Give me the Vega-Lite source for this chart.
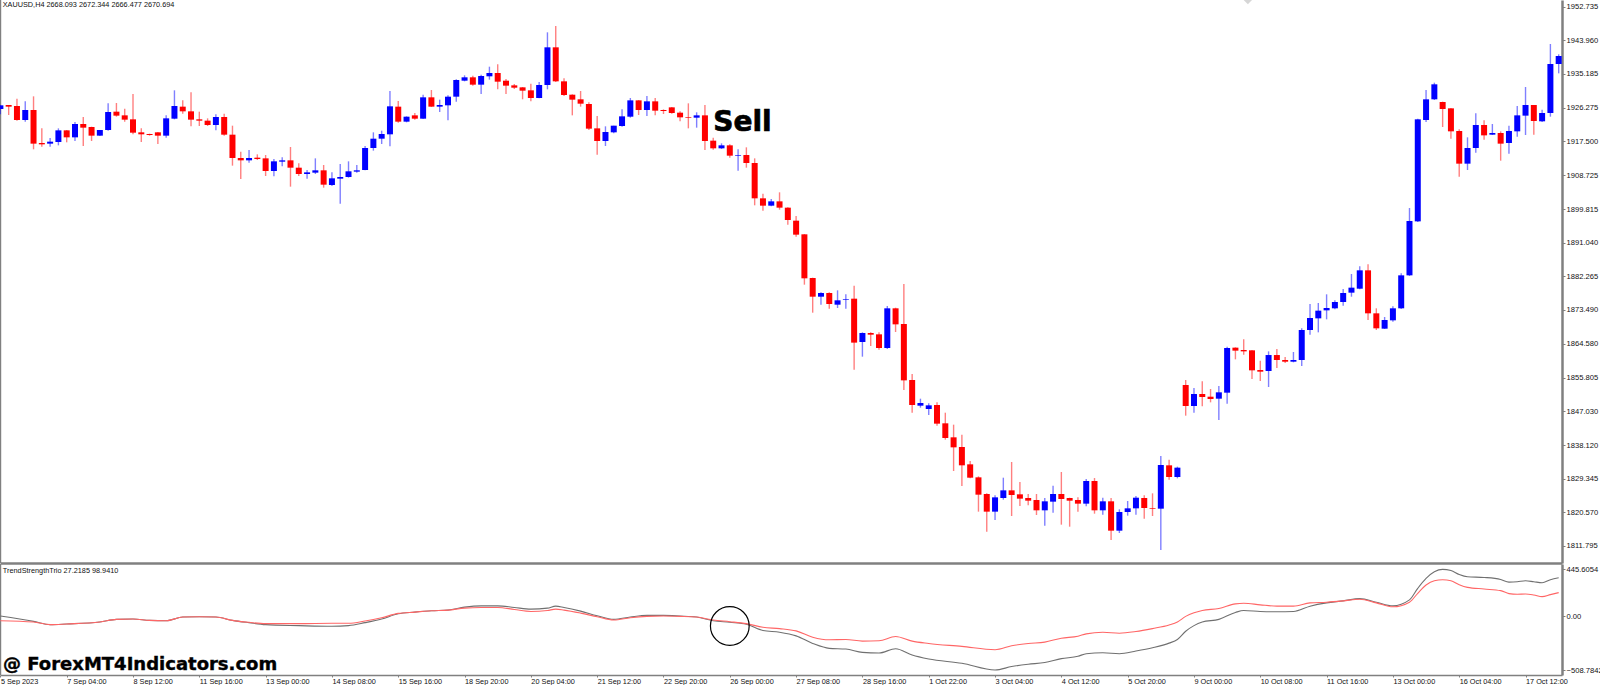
{"$schema":"https://vega.github.io/schema/vega-lite/v6.json","background":"white","padding":{"left":-2,"top":-1,"right":0,"bottom":0},"spacing":-1,"config":{"view":{"stroke":null},"font":"Liberation Sans","axis":{"labelFont":"Liberation Sans","labelFontSize":7.6,"labelColor":"#111","labelOverlap":false,"grid":false,"title":null,"domainColor":"#808080","tickColor":"#808080"}},
"datasets":{"candles":[
{"bar":0,"open":1925.99,"high":1926.95,"low":1924.59,"close":1926.95,"dir":"up"},
{"bar":1,"open":1927.03,"high":1927.03,"low":1924.42,"close":1926.6,"dir":"down"},
{"bar":2,"open":1926.77,"high":1928.69,"low":1922.94,"close":1923.11,"dir":"down"},
{"bar":3,"open":1923.11,"high":1927.99,"low":1922.68,"close":1925.73,"dir":"up"},
{"bar":4,"open":1925.73,"high":1929.3,"low":1915.45,"close":1916.93,"dir":"down"},
{"bar":5,"open":1917.1,"high":1920.93,"low":1916.14,"close":1916.75,"dir":"down"},
{"bar":6,"open":1916.93,"high":1918.41,"low":1916.14,"close":1917.45,"dir":"up"},
{"bar":7,"open":1917.36,"high":1920.93,"low":1916.49,"close":1920.41,"dir":"up"},
{"bar":8,"open":1920.41,"high":1920.5,"low":1917.28,"close":1918.58,"dir":"down"},
{"bar":9,"open":1918.58,"high":1922.59,"low":1917.62,"close":1922.07,"dir":"up"},
{"bar":10,"open":1922.07,"high":1923.9,"low":1916.32,"close":1921.11,"dir":"down"},
{"bar":11,"open":1921.28,"high":1921.37,"low":1917.62,"close":1919.02,"dir":"down"},
{"bar":12,"open":1919.02,"high":1920.5,"low":1918.93,"close":1920.5,"dir":"up"},
{"bar":13,"open":1920.5,"high":1927.47,"low":1920.32,"close":1925.2,"dir":"up"},
{"bar":14,"open":1925.29,"high":1927.56,"low":1923.98,"close":1924.25,"dir":"down"},
{"bar":15,"open":1924.33,"high":1926.08,"low":1922.68,"close":1923.2,"dir":"down"},
{"bar":16,"open":1923.29,"high":1929.91,"low":1919.37,"close":1919.8,"dir":"down"},
{"bar":17,"open":1919.89,"high":1920.93,"low":1917.36,"close":1919.37,"dir":"down"},
{"bar":18,"open":1919.45,"high":1919.54,"low":1919.02,"close":1919.19,"dir":"down"},
{"bar":19,"open":1919.89,"high":1919.98,"low":1916.84,"close":1919.02,"dir":"down"},
{"bar":20,"open":1919.02,"high":1924.33,"low":1918.5,"close":1923.55,"dir":"up"},
{"bar":21,"open":1923.46,"high":1930.87,"low":1923.29,"close":1926.77,"dir":"up"},
{"bar":22,"open":1926.6,"high":1928.25,"low":1924.77,"close":1925.38,"dir":"down"},
{"bar":23,"open":1925.38,"high":1930.35,"low":1921.46,"close":1923.2,"dir":"down"},
{"bar":24,"open":1923.29,"high":1925.29,"low":1921.54,"close":1922.94,"dir":"down"},
{"bar":25,"open":1922.94,"high":1923.55,"low":1921.54,"close":1921.81,"dir":"down"},
{"bar":26,"open":1921.81,"high":1924.59,"low":1920.41,"close":1923.9,"dir":"up"},
{"bar":27,"open":1923.9,"high":1924.77,"low":1919.02,"close":1919.28,"dir":"down"},
{"bar":28,"open":1919.28,"high":1921.63,"low":1911.18,"close":1913.18,"dir":"down"},
{"bar":29,"open":1913.18,"high":1914.83,"low":1907.69,"close":1912.57,"dir":"down"},
{"bar":30,"open":1912.57,"high":1915.27,"low":1911.96,"close":1913.18,"dir":"up"},
{"bar":31,"open":1913.27,"high":1914.14,"low":1912.66,"close":1912.92,"dir":"down"},
{"bar":32,"open":1913.09,"high":1913.96,"low":1908.48,"close":1909.78,"dir":"down"},
{"bar":33,"open":1909.78,"high":1912.92,"low":1908.39,"close":1912.31,"dir":"up"},
{"bar":34,"open":1912.22,"high":1913.35,"low":1911.0,"close":1912.57,"dir":"up"},
{"bar":35,"open":1912.57,"high":1916.06,"low":1905.69,"close":1910.65,"dir":"down"},
{"bar":36,"open":1910.65,"high":1911.79,"low":1908.48,"close":1909.0,"dir":"down"},
{"bar":37,"open":1909.0,"high":1910.04,"low":1907.78,"close":1909.43,"dir":"up"},
{"bar":38,"open":1909.35,"high":1913.09,"low":1909.0,"close":1909.96,"dir":"up"},
{"bar":39,"open":1909.96,"high":1911.35,"low":1905.43,"close":1906.21,"dir":"down"},
{"bar":40,"open":1906.12,"high":1909.43,"low":1905.86,"close":1907.87,"dir":"up"},
{"bar":41,"open":1907.78,"high":1911.61,"low":1901.24,"close":1908.21,"dir":"up"},
{"bar":42,"open":1908.21,"high":1912.31,"low":1908.04,"close":1909.7,"dir":"up"},
{"bar":43,"open":1909.61,"high":1911.35,"low":1909.35,"close":1909.96,"dir":"up"},
{"bar":44,"open":1910.04,"high":1916.32,"low":1909.96,"close":1915.79,"dir":"up"},
{"bar":45,"open":1915.79,"high":1919.89,"low":1915.1,"close":1918.23,"dir":"up"},
{"bar":46,"open":1918.23,"high":1920.32,"low":1916.84,"close":1919.45,"dir":"up"},
{"bar":47,"open":1919.37,"high":1930.69,"low":1916.23,"close":1926.69,"dir":"up"},
{"bar":48,"open":1926.6,"high":1928.08,"low":1922.42,"close":1922.68,"dir":"down"},
{"bar":49,"open":1922.68,"high":1924.07,"low":1922.5,"close":1923.98,"dir":"up"},
{"bar":50,"open":1924.33,"high":1924.94,"low":1923.2,"close":1923.46,"dir":"down"},
{"bar":51,"open":1923.46,"high":1929.73,"low":1923.37,"close":1929.04,"dir":"up"},
{"bar":52,"open":1929.04,"high":1930.95,"low":1926.51,"close":1926.6,"dir":"down"},
{"bar":53,"open":1926.6,"high":1928.43,"low":1925.2,"close":1927.03,"dir":"up"},
{"bar":54,"open":1926.95,"high":1929.56,"low":1923.03,"close":1929.21,"dir":"up"},
{"bar":55,"open":1929.21,"high":1933.74,"low":1927.91,"close":1933.57,"dir":"up"},
{"bar":56,"open":1933.39,"high":1934.79,"low":1933.22,"close":1934.27,"dir":"up"},
{"bar":57,"open":1934.27,"high":1934.7,"low":1932.09,"close":1932.35,"dir":"down"},
{"bar":58,"open":1932.35,"high":1934.96,"low":1929.91,"close":1934.61,"dir":"up"},
{"bar":59,"open":1934.53,"high":1937.05,"low":1933.66,"close":1935.4,"dir":"up"},
{"bar":60,"open":1935.4,"high":1937.66,"low":1931.13,"close":1933.13,"dir":"down"},
{"bar":61,"open":1933.39,"high":1933.83,"low":1929.91,"close":1932.09,"dir":"down"},
{"bar":62,"open":1932.17,"high":1932.52,"low":1931.22,"close":1931.56,"dir":"down"},
{"bar":63,"open":1931.65,"high":1931.74,"low":1928.52,"close":1930.78,"dir":"down"},
{"bar":64,"open":1930.87,"high":1932.61,"low":1927.99,"close":1928.86,"dir":"down"},
{"bar":65,"open":1928.86,"high":1933.05,"low":1928.78,"close":1932.26,"dir":"up"},
{"bar":66,"open":1932.26,"high":1946.03,"low":1931.13,"close":1942.11,"dir":"up"},
{"bar":67,"open":1942.11,"high":1947.68,"low":1933.05,"close":1933.22,"dir":"down"},
{"bar":68,"open":1933.22,"high":1934.0,"low":1929.39,"close":1929.65,"dir":"down"},
{"bar":69,"open":1929.73,"high":1929.82,"low":1924.33,"close":1928.43,"dir":"down"},
{"bar":70,"open":1928.52,"high":1930.69,"low":1926.6,"close":1927.38,"dir":"down"},
{"bar":71,"open":1927.3,"high":1927.73,"low":1920.5,"close":1920.85,"dir":"down"},
{"bar":72,"open":1920.93,"high":1924.16,"low":1914.05,"close":1917.62,"dir":"down"},
{"bar":73,"open":1917.62,"high":1921.46,"low":1916.32,"close":1919.98,"dir":"up"},
{"bar":74,"open":1919.89,"high":1921.63,"low":1919.63,"close":1921.63,"dir":"up"},
{"bar":75,"open":1921.54,"high":1925.9,"low":1921.37,"close":1924.07,"dir":"up"},
{"bar":76,"open":1923.98,"high":1928.86,"low":1923.72,"close":1928.25,"dir":"up"},
{"bar":77,"open":1928.25,"high":1928.34,"low":1924.42,"close":1925.73,"dir":"down"},
{"bar":78,"open":1925.73,"high":1929.39,"low":1924.16,"close":1927.99,"dir":"up"},
{"bar":79,"open":1927.99,"high":1928.86,"low":1924.33,"close":1925.55,"dir":"down"},
{"bar":80,"open":1925.73,"high":1925.9,"low":1924.68,"close":1925.47,"dir":"down"},
{"bar":81,"open":1926.42,"high":1926.51,"low":1924.77,"close":1924.94,"dir":"down"},
{"bar":82,"open":1925.03,"high":1925.38,"low":1922.77,"close":1923.81,"dir":"down"},
{"bar":83,"open":1923.9,"high":1927.47,"low":1920.93,"close":1923.72,"dir":"down"},
{"bar":84,"open":1923.72,"high":1925.12,"low":1921.11,"close":1924.33,"dir":"up"},
{"bar":85,"open":1924.33,"high":1927.03,"low":1915.27,"close":1917.62,"dir":"down"},
{"bar":86,"open":1917.71,"high":1918.5,"low":1915.36,"close":1915.71,"dir":"down"},
{"bar":87,"open":1915.71,"high":1917.01,"low":1915.53,"close":1916.49,"dir":"up"},
{"bar":88,"open":1916.49,"high":1916.75,"low":1913.27,"close":1913.79,"dir":"down"},
{"bar":89,"open":1913.79,"high":1915.45,"low":1909.87,"close":1913.96,"dir":"up"},
{"bar":90,"open":1913.96,"high":1915.97,"low":1910.65,"close":1911.87,"dir":"down"},
{"bar":91,"open":1911.87,"high":1913.09,"low":1900.81,"close":1902.64,"dir":"down"},
{"bar":92,"open":1902.64,"high":1903.86,"low":1899.41,"close":1900.72,"dir":"down"},
{"bar":93,"open":1900.72,"high":1902.46,"low":1900.55,"close":1901.85,"dir":"up"},
{"bar":94,"open":1901.85,"high":1904.21,"low":1899.67,"close":1900.2,"dir":"down"},
{"bar":95,"open":1900.2,"high":1900.29,"low":1895.75,"close":1896.97,"dir":"down"},
{"bar":96,"open":1896.8,"high":1898.02,"low":1892.62,"close":1893.14,"dir":"down"},
{"bar":97,"open":1893.23,"high":1893.32,"low":1880.07,"close":1881.73,"dir":"down"},
{"bar":98,"open":1881.81,"high":1881.9,"low":1872.75,"close":1876.93,"dir":"down"},
{"bar":99,"open":1876.93,"high":1878.07,"low":1874.84,"close":1877.89,"dir":"up"},
{"bar":100,"open":1877.89,"high":1878.07,"low":1873.8,"close":1875.02,"dir":"down"},
{"bar":101,"open":1874.84,"high":1878.59,"low":1873.97,"close":1875.98,"dir":"up"},
{"bar":102,"open":1876.15,"high":1877.55,"low":1873.8,"close":1876.32,"dir":"up"},
{"bar":103,"open":1876.41,"high":1879.81,"low":1857.85,"close":1864.92,"dir":"down"},
{"bar":104,"open":1865.09,"high":1867.61,"low":1861.25,"close":1867.44,"dir":"up"},
{"bar":105,"open":1867.44,"high":1867.61,"low":1864.04,"close":1867.0,"dir":"down"},
{"bar":106,"open":1867.09,"high":1867.61,"low":1863.08,"close":1863.52,"dir":"down"},
{"bar":107,"open":1863.52,"high":1874.49,"low":1863.26,"close":1873.89,"dir":"up"},
{"bar":108,"open":1873.89,"high":1874.06,"low":1867.7,"close":1869.7,"dir":"down"},
{"bar":109,"open":1869.79,"high":1880.25,"low":1852.54,"close":1855.06,"dir":"down"},
{"bar":110,"open":1855.15,"high":1856.72,"low":1846.61,"close":1848.62,"dir":"down"},
{"bar":111,"open":1848.44,"high":1850.27,"low":1847.92,"close":1849.14,"dir":"up"},
{"bar":112,"open":1847.57,"high":1849.05,"low":1846.0,"close":1848.53,"dir":"up"},
{"bar":113,"open":1848.62,"high":1849.31,"low":1843.22,"close":1843.74,"dir":"down"},
{"bar":114,"open":1843.83,"high":1846.61,"low":1839.56,"close":1840.0,"dir":"down"},
{"bar":115,"open":1840.17,"high":1843.48,"low":1831.37,"close":1837.55,"dir":"down"},
{"bar":116,"open":1837.64,"high":1840.86,"low":1827.45,"close":1832.85,"dir":"down"},
{"bar":117,"open":1833.11,"high":1833.98,"low":1829.45,"close":1829.62,"dir":"down"},
{"bar":118,"open":1829.71,"high":1829.97,"low":1820.74,"close":1825.18,"dir":"down"},
{"bar":119,"open":1825.36,"high":1825.53,"low":1815.51,"close":1820.74,"dir":"down"},
{"bar":120,"open":1820.74,"high":1825.01,"low":1818.56,"close":1824.48,"dir":"up"},
{"bar":121,"open":1824.31,"high":1829.62,"low":1823.87,"close":1826.31,"dir":"up"},
{"bar":122,"open":1826.31,"high":1833.72,"low":1819.6,"close":1825.09,"dir":"down"},
{"bar":123,"open":1825.27,"high":1828.49,"low":1822.21,"close":1824.14,"dir":"down"},
{"bar":124,"open":1824.31,"high":1825.36,"low":1822.39,"close":1823.61,"dir":"down"},
{"bar":125,"open":1823.79,"high":1825.36,"low":1819.86,"close":1821.09,"dir":"down"},
{"bar":126,"open":1821.09,"high":1824.31,"low":1817.08,"close":1823.44,"dir":"up"},
{"bar":127,"open":1823.35,"high":1827.53,"low":1820.48,"close":1825.36,"dir":"up"},
{"bar":128,"open":1825.36,"high":1831.1,"low":1817.34,"close":1824.05,"dir":"down"},
{"bar":129,"open":1824.31,"high":1824.39,"low":1816.81,"close":1823.61,"dir":"down"},
{"bar":130,"open":1823.79,"high":1824.48,"low":1820.74,"close":1822.83,"dir":"down"},
{"bar":131,"open":1822.83,"high":1829.27,"low":1822.13,"close":1828.75,"dir":"up"},
{"bar":132,"open":1828.75,"high":1829.53,"low":1820.21,"close":1821.09,"dir":"down"},
{"bar":133,"open":1821.09,"high":1824.39,"low":1819.95,"close":1823.44,"dir":"up"},
{"bar":134,"open":1823.44,"high":1824.31,"low":1813.33,"close":1815.77,"dir":"down"},
{"bar":135,"open":1815.77,"high":1821.35,"low":1815.16,"close":1820.65,"dir":"up"},
{"bar":136,"open":1820.65,"high":1823.53,"low":1819.69,"close":1821.61,"dir":"up"},
{"bar":137,"open":1821.61,"high":1824.83,"low":1819.95,"close":1824.39,"dir":"up"},
{"bar":138,"open":1824.31,"high":1825.01,"low":1818.9,"close":1821.7,"dir":"down"},
{"bar":139,"open":1821.7,"high":1825.53,"low":1819.6,"close":1821.52,"dir":"down"},
{"bar":140,"open":1821.52,"high":1835.29,"low":1810.72,"close":1832.93,"dir":"up"},
{"bar":141,"open":1832.85,"high":1834.33,"low":1829.1,"close":1829.8,"dir":"down"},
{"bar":142,"open":1829.8,"high":1832.5,"low":1829.45,"close":1832.24,"dir":"up"},
{"bar":143,"open":1853.84,"high":1855.15,"low":1845.83,"close":1848.35,"dir":"down"},
{"bar":144,"open":1848.35,"high":1853.06,"low":1846.61,"close":1851.49,"dir":"up"},
{"bar":145,"open":1851.49,"high":1854.8,"low":1848.27,"close":1850.71,"dir":"down"},
{"bar":146,"open":1850.79,"high":1852.8,"low":1849.31,"close":1850.18,"dir":"down"},
{"bar":147,"open":1850.27,"high":1853.58,"low":1844.7,"close":1851.93,"dir":"up"},
{"bar":148,"open":1851.84,"high":1863.87,"low":1848.97,"close":1863.52,"dir":"up"},
{"bar":149,"open":1863.61,"high":1863.69,"low":1860.55,"close":1862.82,"dir":"down"},
{"bar":150,"open":1862.99,"high":1865.78,"low":1861.77,"close":1862.64,"dir":"down"},
{"bar":151,"open":1862.91,"high":1862.99,"low":1855.41,"close":1857.68,"dir":"down"},
{"bar":152,"open":1857.76,"high":1860.2,"low":1854.89,"close":1857.33,"dir":"down"},
{"bar":153,"open":1857.5,"high":1862.64,"low":1853.32,"close":1861.68,"dir":"up"},
{"bar":154,"open":1861.68,"high":1863.26,"low":1858.29,"close":1860.38,"dir":"down"},
{"bar":155,"open":1860.38,"high":1861.16,"low":1859.59,"close":1859.94,"dir":"down"},
{"bar":156,"open":1859.94,"high":1862.47,"low":1859.77,"close":1860.38,"dir":"up"},
{"bar":157,"open":1860.38,"high":1868.66,"low":1858.81,"close":1868.22,"dir":"up"},
{"bar":158,"open":1868.22,"high":1875.02,"low":1867.0,"close":1871.36,"dir":"up"},
{"bar":159,"open":1871.27,"high":1875.28,"low":1867.61,"close":1873.28,"dir":"up"},
{"bar":160,"open":1873.36,"high":1877.55,"low":1871.01,"close":1873.97,"dir":"up"},
{"bar":161,"open":1873.89,"high":1875.98,"low":1873.63,"close":1875.54,"dir":"up"},
{"bar":162,"open":1875.54,"high":1878.94,"low":1874.58,"close":1877.89,"dir":"up"},
{"bar":163,"open":1877.98,"high":1882.86,"low":1876.93,"close":1879.29,"dir":"up"},
{"bar":164,"open":1879.02,"high":1884.86,"low":1878.85,"close":1883.82,"dir":"up"},
{"bar":165,"open":1883.82,"high":1885.39,"low":1870.84,"close":1872.58,"dir":"down"},
{"bar":166,"open":1872.58,"high":1873.89,"low":1868.22,"close":1868.66,"dir":"down"},
{"bar":167,"open":1868.57,"high":1871.62,"low":1868.48,"close":1870.84,"dir":"up"},
{"bar":168,"open":1870.75,"high":1874.41,"low":1870.4,"close":1873.89,"dir":"up"},
{"bar":169,"open":1873.89,"high":1883.03,"low":1873.71,"close":1882.51,"dir":"up"},
{"bar":170,"open":1882.51,"high":1900.11,"low":1882.34,"close":1896.71,"dir":"up"},
{"bar":171,"open":1896.62,"high":1923.46,"low":1896.45,"close":1923.29,"dir":"up"},
{"bar":172,"open":1923.11,"high":1930.95,"low":1922.59,"close":1928.52,"dir":"up"},
{"bar":173,"open":1928.52,"high":1932.87,"low":1928.34,"close":1932.44,"dir":"up"},
{"bar":174,"open":1927.82,"high":1927.91,"low":1921.28,"close":1925.99,"dir":"down"},
{"bar":175,"open":1926.16,"high":1926.25,"low":1918.23,"close":1920.15,"dir":"down"},
{"bar":176,"open":1920.24,"high":1920.67,"low":1908.3,"close":1911.7,"dir":"down"},
{"bar":177,"open":1911.7,"high":1918.58,"low":1910.04,"close":1915.79,"dir":"up"},
{"bar":178,"open":1915.79,"high":1924.86,"low":1914.57,"close":1921.81,"dir":"up"},
{"bar":179,"open":1921.81,"high":1923.03,"low":1917.97,"close":1919.1,"dir":"down"},
{"bar":180,"open":1919.28,"high":1922.07,"low":1919.19,"close":1919.72,"dir":"up"},
{"bar":181,"open":1919.72,"high":1920.15,"low":1912.48,"close":1916.93,"dir":"down"},
{"bar":182,"open":1917.1,"high":1921.63,"low":1914.31,"close":1920.24,"dir":"up"},
{"bar":183,"open":1920.15,"high":1926.77,"low":1918.76,"close":1924.33,"dir":"up"},
{"bar":184,"open":1924.25,"high":1931.74,"low":1919.19,"close":1927.03,"dir":"up"},
{"bar":185,"open":1927.03,"high":1927.03,"low":1919.28,"close":1922.85,"dir":"down"},
{"bar":186,"open":1922.77,"high":1925.81,"low":1922.59,"close":1924.94,"dir":"up"},
{"bar":187,"open":1924.94,"high":1942.98,"low":1923.98,"close":1937.75,"dir":"up"},
{"bar":188,"open":1937.75,"high":1940.28,"low":1935.31,"close":1939.84,"dir":"up"}
],
"indicator":[
{"bar":0,"main":3.1,"signal":-40.7},{"bar":4,"main":-47,"signal":-53.2},{"bar":6,"main":-78.3,"signal":-78.3},{"bar":8,"main":-72,"signal":-72},{"bar":12,"main":-53.2,"signal":-53.2},{"bar":14,"main":-28.2,"signal":-28.2},{"bar":16,"main":-25,"signal":-25},{"bar":18,"main":-37.6,"signal":-37.6},{"bar":20,"main":-40.7,"signal":-40.7},{"bar":22,"main":-6.3,"signal":-6.3},{"bar":24,"main":-3.1,"signal":-3.1},{"bar":26,"main":-6.3,"signal":-6.3},{"bar":28,"main":-37.6,"signal":-37.6},{"bar":30,"main":-59.5,"signal":-56.3},{"bar":32,"main":-78.3,"signal":-68.9},{"bar":36,"main":-87.6,"signal":-68.9},{"bar":40,"main":-93.9,"signal":-65.7},{"bar":42,"main":-87.6,"signal":-65.7},{"bar":44,"main":-59.5,"signal":-43.8},{"bar":46,"main":-25,"signal":-12.5},{"bar":48,"main":25,"signal":28.2},{"bar":50,"main":40.7,"signal":40.7},{"bar":52,"main":53.2,"signal":53.2},{"bar":54,"main":59.5,"signal":59.5},{"bar":56,"main":87.6,"signal":78.3},{"bar":58,"main":100.2,"signal":84.5},{"bar":60,"main":100.2,"signal":84.5},{"bar":62,"main":84.5,"signal":65.7},{"bar":64,"main":68.9,"signal":47},{"bar":66,"main":78.3,"signal":56.3},{"bar":67,"main":97,"signal":68.9},{"bar":68,"main":84.5,"signal":59.5},{"bar":70,"main":50,"signal":31.3},{"bar":72,"main":6.3,"signal":-3.1},{"bar":74,"main":-28.2,"signal":-34.4},{"bar":76,"main":-6.3,"signal":-12.5},{"bar":78,"main":9.4,"signal":0},{"bar":80,"main":9.4,"signal":3.1},{"bar":82,"main":3.1,"signal":0},{"bar":84,"main":-6.3,"signal":-6.3},{"bar":86,"main":-40.7,"signal":-34.4},{"bar":88,"main":-56.3,"signal":-50.1},{"bar":90,"main":-75.1,"signal":-68.9},{"bar":92,"main":-134.6,"signal":-103.3},{"bar":94,"main":-150.2,"signal":-115.8},{"bar":96,"main":-184.7,"signal":-137.7},{"bar":98,"main":-256.7,"signal":-197.2},{"bar":100,"main":-303.6,"signal":-222.2},{"bar":102,"main":-309.9,"signal":-219.1},{"bar":104,"main":-341.2,"signal":-234.8},{"bar":106,"main":-347.4,"signal":-231.6},{"bar":108,"main":-306.7,"signal":-190.9},{"bar":110,"main":-366.2,"signal":-234.8},{"bar":112,"main":-403.8,"signal":-256.7},{"bar":116,"main":-444.5,"signal":-284.8},{"bar":120,"main":-508.8,"signal":-316.1},{"bar":122,"main":-475.8,"signal":-278.6},{"bar":124,"main":-453.9,"signal":-256.7},{"bar":126,"main":-438.2,"signal":-244.1},{"bar":128,"main":-400.6,"signal":-206.6},{"bar":130,"main":-378.7,"signal":-187.8},{"bar":131,"main":-353.7,"signal":-165.9},{"bar":133,"main":-344.3,"signal":-150.2},{"bar":135,"main":-353.7,"signal":-159.6},{"bar":137,"main":-328.7,"signal":-144},{"bar":139,"main":-297.4,"signal":-115.8},{"bar":141,"main":-253.5,"signal":-81.4},{"bar":142,"main":-219.1,"signal":-53.2},{"bar":143,"main":-140.9,"signal":0},{"bar":144,"main":-87.6,"signal":34.4},{"bar":145,"main":-53.2,"signal":56.3},{"bar":147,"main":-28.2,"signal":75.1},{"bar":149,"main":37.6,"signal":118.9},{"bar":150,"main":56.3,"signal":125.2},{"bar":152,"main":47,"signal":109.6},{"bar":154,"main":43.8,"signal":97},{"bar":156,"main":47,"signal":97},{"bar":158,"main":97,"signal":128.3},{"bar":160,"main":128.3,"signal":134.6},{"bar":162,"main":147.1,"signal":147.1},{"bar":164,"main":169,"signal":162.8},{"bar":166,"main":134.6,"signal":128.3},{"bar":168,"main":100.2,"signal":90.8},{"bar":170,"main":156.5,"signal":134.6},{"bar":171,"main":266,"signal":219.1},{"bar":172,"main":360,"signal":297.4},{"bar":173,"main":422.6,"signal":338},{"bar":174,"main":445.6,"signal":347.4},{"bar":175,"main":435,"signal":338},{"bar":176,"main":397.5,"signal":300.5},{"bar":177,"main":375.6,"signal":275.4},{"bar":179,"main":369.3,"signal":259.8},{"bar":181,"main":350.6,"signal":244.1},{"bar":182,"main":325.5,"signal":216},{"bar":183,"main":328.7,"signal":209.7},{"bar":184,"main":338,"signal":212.8},{"bar":185,"main":328.7,"signal":203.5},{"bar":186,"main":319.3,"signal":187.8},{"bar":187,"main":347.4,"signal":206.6},{"bar":188,"main":366.2,"signal":225.4}
]},
"vconcat":[
{"width":1562,"height":563,"layer":[
{"data":{"values":[{"bar":-0.02}]},"mark":{"type":"rule","color":"#808080","strokeWidth":2},"encoding":{"x":{"field":"bar","type":"quantitative","scale":{"domain":[-0.046,188.4],"nice":false,"zero":false},"axis":{"labels":false,"ticks":false,"domainWidth":2.5,"domainColor":"#808080"}}}},
{"data":{"name":"candles"},"mark":{"type":"rule","strokeWidth":1.4,"opacity":0.5,"clip":true},"encoding":{"x":{"field":"bar","type":"quantitative"},"y":{"field":"low","type":"quantitative","scale":{"domain":[1807.32,1954.48],"nice":false,"zero":false},"axis":{"orient":"right","values":[1952.735,1943.96,1935.185,1926.275,1917.5,1908.725,1899.815,1891.04,1882.265,1873.49,1864.58,1855.805,1847.03,1838.12,1829.345,1820.57,1811.795],"format":".3f","tickSize":3,"labelPadding":1,"domainWidth":2.5,"labelOverlap":false,"labelSeparation":0,"labelBound":false,"tickCount":17}},"y2":{"field":"high"},"color":{"field":"dir","type":"nominal","scale":{"domain":["up","down"],"range":["#0000ff","#ff0000"]},"legend":null}}},
{"data":{"name":"candles"},"mark":{"type":"rule","strokeWidth":6,"clip":true},"encoding":{"x":{"field":"bar","type":"quantitative"},"y":{"field":"open","type":"quantitative"},"y2":{"field":"close"},"color":{"field":"dir","type":"nominal","legend":null}}},
{"data":{"values":[{"bar":86.0,"price":1920.2,"label":"Sell"}]},"mark":{"type":"text","font":"DejaVu Sans","fontWeight":"bold","fontSize":28,"align":"left","baseline":"alphabetic","color":"#000","stroke":"#000","strokeWidth":0.7},"encoding":{"x":{"field":"bar","type":"quantitative"},"y":{"field":"price","type":"quantitative"},"text":{"field":"label"}}},
{"data":{"values":[{"bar":0.28,"price":1953.09,"label":"XAUUSD,H4  2668.093 2672.344 2666.477 2670.694"}]},"mark":{"type":"text","font":"Liberation Sans","fontSize":7.3,"align":"left","baseline":"middle","color":"#111"},"encoding":{"x":{"field":"bar","type":"quantitative"},"y":{"field":"price","type":"quantitative"},"text":{"field":"label"}}},
{"data":{"values":[{"bar":150.5,"price":1954.48}]},"mark":{"type":"point","shape":"diamond","size":70,"filled":true,"color":"#c4c4c4","clip":true},"encoding":{"x":{"field":"bar","type":"quantitative"},"y":{"field":"price","type":"quantitative"}}}
]},
{"width":1562,"height":111,"layer":[
{"data":{"values":[{"bar":-0.02}]},"mark":{"type":"rule","color":"#808080","strokeWidth":2},"encoding":{"x":{"field":"bar","type":"quantitative","scale":{"domain":[-0.046,188.4],"nice":false,"zero":false},"axis":{"values":[0,8,16,24,32,40,48,56,64,72,80,88,96,104,112,120,128,136,144,152,160,168,176,184],"labelExpr":"['5 Sep 2023','7 Sep 04:00','8 Sep 12:00','11 Sep 16:00','13 Sep 00:00','14 Sep 08:00','15 Sep 16:00','18 Sep 20:00','20 Sep 04:00','21 Sep 12:00','22 Sep 20:00','26 Sep 00:00','27 Sep 08:00','28 Sep 16:00','1 Oct 22:00','3 Oct 04:00','4 Oct 12:00','5 Oct 20:00','9 Oct 00:00','10 Oct 08:00','11 Oct 16:00','13 Oct 00:00','16 Oct 04:00','17 Oct 12:00'][datum.value/8]","labelAlign":"left","labelFlush":false,"labelFontSize":7.3,"tickSize":2,"labelPadding":0,"domainWidth":1.5}}}},
{"data":{"name":"indicator"},"mark":{"type":"line","color":"#707070","strokeWidth":1.1,"interpolate":"monotone"},"encoding":{"x":{"field":"bar","type":"quantitative"},"y":{"field":"main","type":"quantitative","scale":{"domain":[-556,497],"nice":false,"zero":false},"axis":{"orient":"right","values":[445.6054,0,-508.7842],"labelExpr":"datum.value==0?'0.00':format(datum.value,'.4f')","tickSize":3,"labelPadding":1,"domainWidth":2.5}}}},
{"data":{"name":"indicator"},"mark":{"type":"line","color":"#ff6666","strokeWidth":1.1,"interpolate":"monotone"},"encoding":{"x":{"field":"bar","type":"quantitative"},"y":{"field":"signal","type":"quantitative"}}},
{"data":{"values":[{"bar":88,"value":-91}]},"mark":{"type":"point","shape":"circle","size":1500,"filled":false,"color":"#000","strokeWidth":1.2,"opacity":1},"encoding":{"x":{"field":"bar","type":"quantitative"},"y":{"field":"value","type":"quantitative"}}},
{"data":{"values":[{"bar":0.3,"value":433.6,"label":"TrendStrengthTrio 27.2185 98.9410"}]},"mark":{"type":"text","font":"Liberation Sans","fontSize":7.3,"align":"left","baseline":"middle","color":"#111"},"encoding":{"x":{"field":"bar","type":"quantitative"},"y":{"field":"value","type":"quantitative"},"text":{"field":"label"}}},
{"data":{"values":[{"bar":0.32,"value":-461,"label":"@ ForexMT4Indicators.com"}]},"mark":{"type":"text","font":"DejaVu Sans","fontWeight":"bold","fontSize":18,"align":"left","baseline":"middle","color":"#000","stroke":"#000","strokeWidth":0.4},"encoding":{"x":{"field":"bar","type":"quantitative"},"y":{"field":"value","type":"quantitative"},"text":{"field":"label"}}}
]}
]}
